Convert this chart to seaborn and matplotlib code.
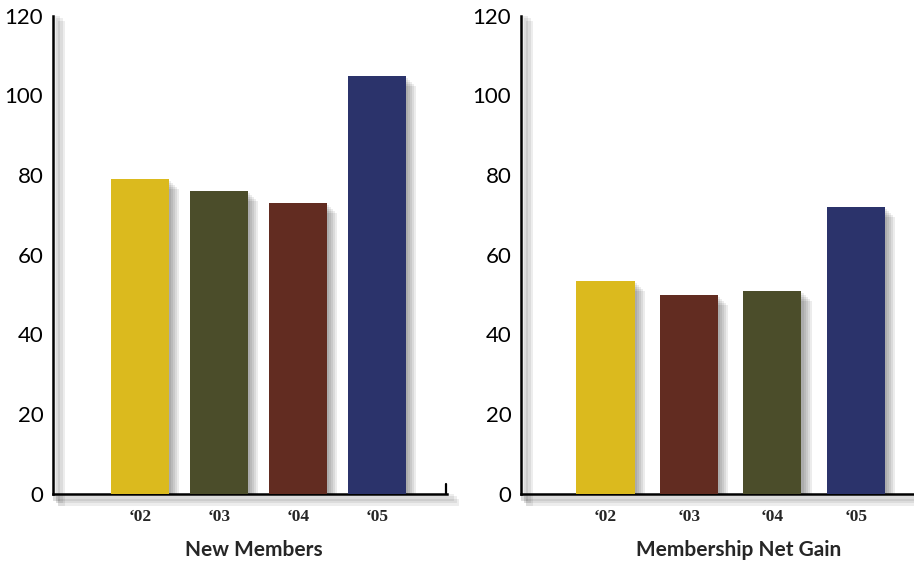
import numpy as np
import pandas as pd
import seaborn as sns
from matplotlib import pyplot as plt
from matplotlib import patheffects as pe

YEARS = ['\u201802', '\u201803', '\u201804', '\u201805']

NEW_MEMBERS = [79, 76, 73, 105]
NEW_COLORS = ['#dbba1e', '#4b4d2a', '#622c21', '#2b336b']

NET_GAIN = [53.5, 50, 51, 72]
NET_COLORS = ['#dbba1e', '#622c21', '#4b4d2a', '#2b336b']

Y_TICKS = [0, 20, 40, 60, 80, 100, 120]

NUM_FONT = ['Lato', 'DejaVu Sans']
YEAR_FONT = ['Liberation Serif', 'DejaVu Serif']


def shadow_effects(step, alpha):
    # fake a blurred drop shadow by stacking offset shadows
    fx = []
    for i in range(1, 6):
        fx.append(pe.SimplePatchShadow(offset=(step * i, -step * i),
                                       shadow_rgbFace='black', alpha=alpha))
    fx.append(pe.Normal())
    return fx


def line_shadow():
    fx = []
    for i in range(1, 4):
        fx.append(pe.SimpleLineShadow(offset=(2 * i, -2 * i), shadow_color='black',
                                      alpha=0.07, linewidth=5))
    fx.append(pe.Normal())
    return fx


def draw_panel(ax, values, colors, title, width, xlim, end_tick):
    df = pd.DataFrame({'year': YEARS, 'value': values})
    sns.barplot(data=df, x='year', y='value', hue='year', palette=colors,
                order=YEARS, hue_order=YEARS, width=width, saturation=1,
                legend=False, ax=ax, zorder=3)

    for bar in ax.patches:
        bar.set_edgecolor('none')
        bar.set_path_effects(shadow_effects(1.5, 0.075))

    ax.set_xlim(*xlim)
    ax.set_ylim(0, 120)
    ax.set_yticks(Y_TICKS)
    ax.set_yticklabels([str(t) for t in Y_TICKS], family=NUM_FONT, fontsize=16)

    ax.tick_params(axis='y', direction='in', length=9, width=1.6, pad=7, colors='black')
    ax.tick_params(axis='x', length=0, pad=11)
    for lab in ax.get_xticklabels():
        lab.set_family(YEAR_FONT)
        lab.set_fontweight('bold')
        lab.set_fontsize(12.5)

    ax.set_xlabel(title, family=NUM_FONT, fontweight='bold', fontsize=15)
    ax.set_ylabel('')

    for side in ['top', 'right']:
        ax.spines[side].set_visible(False)
    for side in ['left', 'bottom']:
        ax.spines[side].set_linewidth(1.8)
        ax.spines[side].set_color('black')
        ax.spines[side].set_path_effects(line_shadow())

    if end_tick:
        ax.axvline(xlim[1] - 0.01, ymin=0, ymax=0.02, color='black', lw=1.6, clip_on=False)

    ax.set_facecolor('white')
    ax.grid(False)


def main():
    sns.set_style('white')

    fig = plt.figure(figsize=(9.14, 5.63), dpi=100)
    ax1 = fig.add_axes([0.058, 0.123, 0.431, 0.849])
    ax2 = fig.add_axes([0.570, 0.123, 0.432, 0.849])

    draw_panel(ax1, NEW_MEMBERS, NEW_COLORS, 'New Members', 0.73, (-1.10, 3.89), True)
    draw_panel(ax2, NET_GAIN, NET_COLORS, 'Membership Net Gain', 0.70, (-1.01, 3.72), False)
    ax2.xaxis.set_label_coords(0.55, -0.096)
    ax1.xaxis.set_label_coords(0.51, -0.096)

    fig.savefig('out.png', dpi=100, facecolor='white')


if __name__ == '__main__':
    main()
